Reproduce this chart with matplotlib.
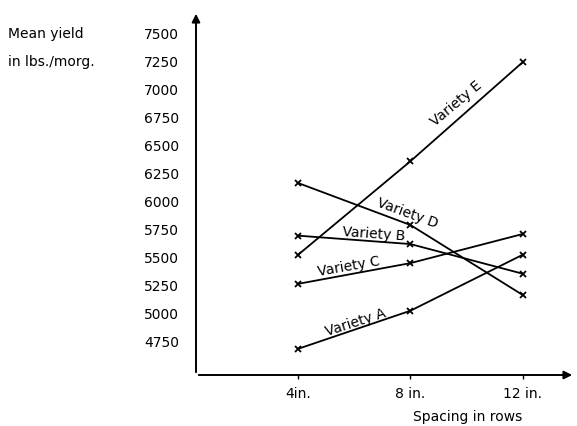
import matplotlib.pyplot as plt

# Mean yield (lbs./morg.) by row spacing
spacing = [4, 8, 12]
spacing_labels = ['4in.', '8 in.', '12 in.']
yield_ticks = [4750, 5000, 5250, 5500, 5750, 6000, 6250, 6500, 6750, 7000, 7250, 7500]

variety_a = [4680, 5020, 5520]
variety_b = [5690, 5615, 5350]
variety_c = [5260, 5445, 5705]
variety_d = [6160, 5785, 5160]
variety_e = [5520, 6355, 7240]

fs = 10

fig = plt.figure(figsize=(5.77, 4.27), dpi=100)
ax = fig.add_axes([196 / 577, 51 / 427, 379 / 577, 364 / 427])

for vals in [variety_a, variety_b, variety_c, variety_d, variety_e]:
    ax.plot(spacing, vals, color='black', lw=1.3, marker='x', ms=5, mew=1.3)

ax.set_xlim(0.36, 13.86)
ax.set_ylim(4446, 7696)

# line labels, placed along each line
lab = dict(fontsize=fs, ha='center', va='center', color='black')
ax.text(9.62, 6880, 'Variety E', rotation=40, **lab)
ax.text(7.89, 5900, 'Variety D', rotation=-20, **lab)
ax.text(6.68, 5712, 'Variety B', rotation=-4, **lab)
ax.text(5.79, 5425, 'Variety C', rotation=10, **lab)
ax.text(6.04, 4925, 'Variety A', rotation=18, **lab)

ax.set_xticks(spacing)
ax.set_xticklabels(spacing_labels, fontsize=fs)
ax.set_yticks(yield_ticks)
ax.set_yticklabels([str(v) for v in yield_ticks], fontsize=fs)
ax.tick_params(axis='x', length=3, width=1, pad=5)
ax.tick_params(axis='y', length=0, pad=12)

for s in ['top', 'right', 'left', 'bottom']:
    ax.spines[s].set_visible(False)

# axes drawn as arrows
arr = dict(arrowstyle='-|>', color='black', lw=1.4, mutation_scale=12)
ax.annotate('', xy=(1.0, 0), xytext=(0, 0), xycoords='axes fraction', arrowprops=arr)
ax.annotate('', xy=(0, 1.0), xytext=(0, 0), xycoords='axes fraction', arrowprops=arr)

fig.text(8 / 577, 1 - 34 / 427, 'Mean yield', fontsize=fs, ha='left', va='center')
fig.text(8 / 577, 1 - 62 / 427, 'in lbs./morg.', fontsize=fs, ha='left', va='center')
fig.text(468 / 577, 3 / 427, 'Spacing in rows', fontsize=fs, ha='center', va='bottom')

fig.savefig('out.png', dpi=100)
